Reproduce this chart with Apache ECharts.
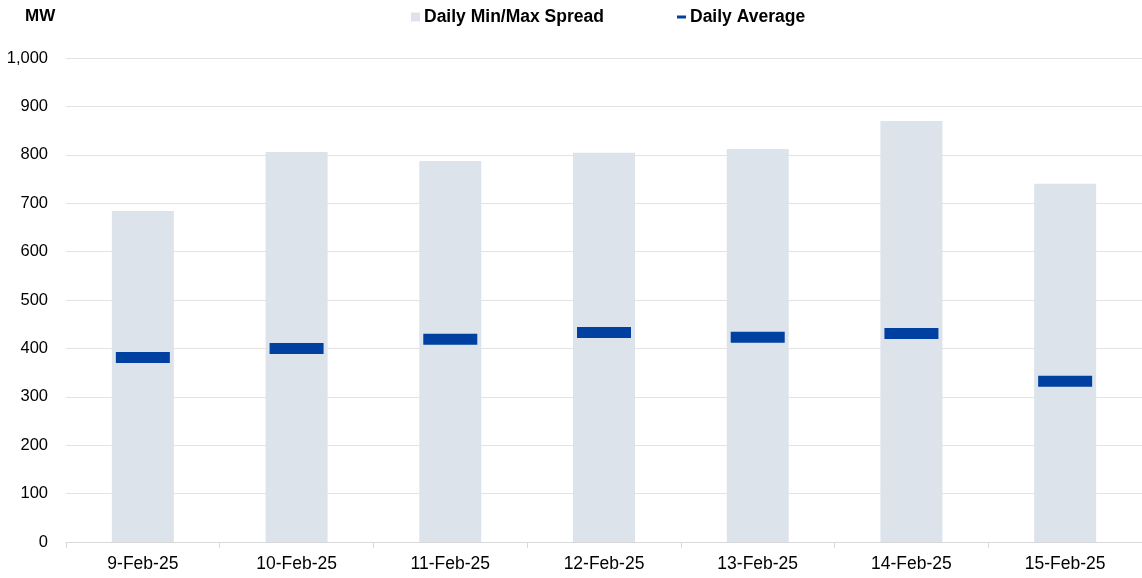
<!DOCTYPE html>
<html>
<head>
<meta charset="utf-8">
<script src="https://cdn.jsdelivr.net/npm/echarts@6/dist/echarts.min.js"></script>
<style>
html,body{margin:0;padding:0;background:#fff;}
#chart{width:1142px;height:578px;}
</style>
</head>
<body>
<div id="chart"></div>
<script>
var categories = ['9-Feb-25','10-Feb-25','11-Feb-25','12-Feb-25','13-Feb-25','14-Feb-25','15-Feb-25'];
var dailyMax = [684, 806, 787, 804, 812, 870, 740];
var dailyAvg = [381, 400, 419, 433, 423, 431, 332];
var yTicks = [0, 100, 200, 300, 400, 500, 600, 700, 800, 900, 1000];

var FONT = 'Liberation Sans, Arial, sans-serif';
var chart = echarts.init(document.getElementById('chart'));
chart.setOption({
  animation: false,
  textStyle: {fontFamily: FONT},
  grid: {left: 66, right: 0, top: 58, bottom: 36, containLabel: false},
  graphic: [{
    type: 'text', left: 25, top: 8,
    style: {text: 'MW', font: 'bold 17px ' + FONT, fill: '#000'}
  }],
  legend: [{
    left: 411, top: 8, padding: 0, itemWidth: 9, itemHeight: 9,
    data: [{name: 'Daily Min/Max Spread', icon: 'rect'}],
    textStyle: {fontWeight: 'bold', fontSize: 17.5, color: '#000', fontFamily: FONT, padding: [0, 0, 0, -1]}
  }, {
    left: 677, top: 8, padding: 0, itemWidth: 9, itemHeight: 3,
    data: [{name: 'Daily Average', icon: 'rect'}],
    textStyle: {fontWeight: 'bold', fontSize: 17.5, color: '#000', fontFamily: FONT, padding: [0, 0, 0, -1]}
  }],
  xAxis: {
    type: 'category', data: categories,
    axisLine: {show: true, lineStyle: {color: '#d9d9d9', width: 1}},
    axisTick: {show: true, alignWithLabel: false, length: 6, lineStyle: {color: '#d9d9d9'}},
    axisLabel: {color: '#000', fontSize: 17.5, margin: 13, fontFamily: FONT}
  },
  yAxis: {
    type: 'value', min: yTicks[0], max: yTicks[yTicks.length - 1], interval: 100,
    axisLine: {show: false}, axisTick: {show: false},
    splitLine: {show: true, lineStyle: {color: '#e3e3e3', width: 1}},
    axisLabel: {
      color: '#000', fontSize: 16.5, margin: 18, fontFamily: FONT,
      formatter: function (v) { return v.toLocaleString('en-US'); }
    }
  },
  series: [{
    name: 'Daily Min/Max Spread', type: 'bar', data: dailyMax,
    barWidth: 62, itemStyle: {color: '#dce3ea'}
  }, {
    name: 'Daily Average', type: 'scatter', data: dailyAvg,
    symbol: 'rect', symbolSize: [54, 11], itemStyle: {color: '#0040a0', opacity: 1},
    z: 5
  }]
});
</script>
</body>
</html>
